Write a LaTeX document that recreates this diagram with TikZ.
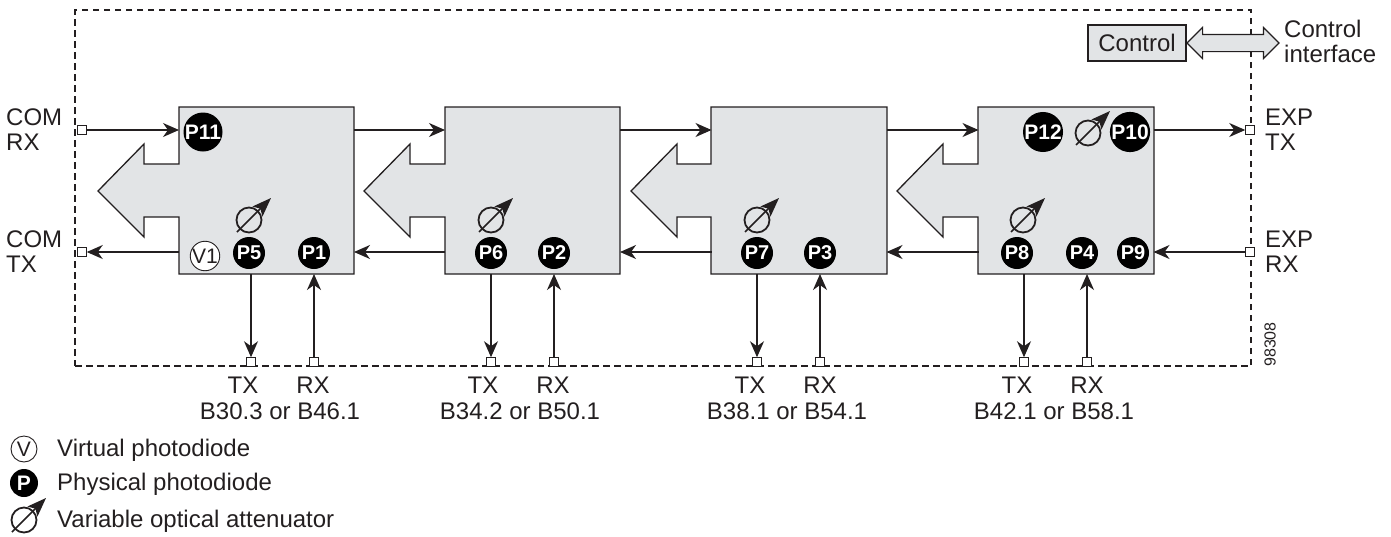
\documentclass[tikz,border=0pt]{standalone}
\usepackage{fontspec}
\setmainfont{Liberation Sans}
\usetikzlibrary{arrows.meta,shapes.arrows}
\definecolor{unitgray}{HTML}{E2E4E6}
\definecolor{inkblack}{HTML}{231F20}
\tikzset{
  txt/.style={font=\fontsize{24}{25}\selectfont,text=inkblack,inner sep=0pt,align=center},
  txtl/.style={txt,anchor=west,align=left},
  unit/.style={draw=inkblack,fill=unitgray,line width=1.3pt},
  body/.style={minimum width=175pt,minimum height=167pt,inner sep=0pt,outer sep=0pt},
  link/.style={draw=inkblack,line width=1.3pt,-{Stealth[length=16pt,width=14pt,inset=5pt]}},
  port/.style={draw=inkblack,fill=white,line width=.9pt,minimum size=9.5pt,inner sep=0pt,outer sep=0pt},
  pd/.style={circle,fill=black,text=white,font=\fontsize{20}{20}\selectfont\bfseries,minimum size=32pt,inner sep=0pt},
  pdbig/.style={pd,minimum size=39pt,font=\fontsize{21}{21}\selectfont\bfseries},
  vd/.style={circle,draw=inkblack,fill=white,line width=.9pt,text=inkblack,font=\fontsize{21}{21}\selectfont,minimum size=26pt,inner sep=0pt},
  attenuator/.pic={
    \node[circle,draw=inkblack,line width=1.8pt,minimum size=25pt,inner sep=0pt] (-ring) at (0,0) {};
    \coordinate (-foot) at (-12,12);
    \coordinate (-head) at (22,-22);
    \draw[draw=inkblack,line width=1.6pt,-{Stealth[length=19pt,width=14pt,inset=4pt]}] (-foot) -- (-head);
  }
}
\begin{document}
\begin{tikzpicture}[x=1pt,y=-1pt]
      \useasboundingbox (0,0) rectangle (1391,536);
      \node[minimum width=1176pt,minimum height=356pt,inner sep=0pt,draw=inkblack,line width=1.3pt,dash pattern=on 6.5pt off 4.5pt] (frame) at (663,188) {};

      \draw[unit] (179,107) -- (354,107) -- (354,274) -- (179,274) -- (179,217) -- (144,217) -- (144,237) -- (98,191) -- (144,144) -- (144,164) -- (179,164) -- cycle;
      \draw[unit] (445,107) -- (620,107) -- (620,274) -- (445,274) -- (445,217) -- (410,217) -- (410,237) -- (364,191) -- (410,144) -- (410,164) -- (445,164) -- cycle;
      \draw[unit] (711,107) -- (887,107) -- (887,274) -- (711,274) -- (711,217) -- (677,217) -- (677,237) -- (631,191) -- (677,144) -- (677,164) -- (711,164) -- cycle;
      \draw[unit] (978,107) -- (1154,107) -- (1154,274) -- (978,274) -- (978,217) -- (943,217) -- (943,237) -- (897,191) -- (943,144) -- (943,164) -- (978,164) -- cycle;
      \node[body] (unit1) at (266.5,190.5) {};
      \node[body] (unit2) at (532.5,190.5) {};
      \node[body] (unit3) at (799,190.5) {};
      \node[body] (unit4) at (1066,190.5) {};

      \node[port] (comrx) at (82,130) {};
      \node[port] (comtx) at (82,252) {};
      \node[port] (exptx) at (1250,130) {};
      \node[port] (exprx) at (1250,252) {};
      \node[port] (tx1) at (251,362) {};
      \node[port] (rx1) at (314,362) {};
      \node[port] (tx2) at (491,362) {};
      \node[port] (rx2) at (554,362) {};
      \node[port] (tx3) at (757,362) {};
      \node[port] (rx3) at (820,362) {};
      \node[port] (tx4) at (1024,362) {};
      \node[port] (rx4) at (1087,362) {};

      \begin{scope}[link]
        \draw (comrx) -- (comrx -| unit1.west);
        \draw (comrx -| unit1.east) -- (comrx -| unit2.west);
        \draw (comrx -| unit2.east) -- (comrx -| unit3.west);
        \draw (comrx -| unit3.east) -- (comrx -| unit4.west);
        \draw (exptx -| unit4.east) -- (exptx);
        \draw (exprx) -- (exprx -| unit4.east);
        \draw (exprx -| unit4.west) -- (exprx -| unit3.east);
        \draw (exprx -| unit3.west) -- (exprx -| unit2.east);
        \draw (exprx -| unit2.west) -- (exprx -| unit1.east);
        \draw (comtx -| unit1.west) -- (comtx);
        \draw (tx1 |- unit1.south) -- (tx1);
        \draw (rx1) -- (rx1 |- unit1.south);
        \draw (tx2 |- unit2.south) -- (tx2);
        \draw (rx2) -- (rx2 |- unit2.south);
        \draw (tx3 |- unit3.south) -- (tx3);
        \draw (rx3) -- (rx3 |- unit3.south);
        \draw (tx4 |- unit4.south) -- (tx4);
        \draw (rx4) -- (rx4 |- unit4.south);
      \end{scope}

      \node[pdbig] (p11) at (203,132) {P11};
      \node[pdbig] (p12) at (1043,132) {P12};
      \node[pdbig] (p10) at (1130,132) {P10};
      \node[vd] (v1) at (205,256) {V1};
      \node[pd] (p5) at (249,253) {P5};
      \node[pd] (p1) at (314,253) {P1};
      \node[pd] (p6) at (491,253) {P6};
      \node[pd] (p2) at (554,253) {P2};
      \node[pd] (p7) at (757,253) {P7};
      \node[pd] (p3) at (820,253) {P3};
      \node[pd] (p8) at (1017,253) {P8};
      \node[pd] (p4) at (1082,253) {P4};
      \node[pd] (p9) at (1133,253) {P9};

      \pic (voa1) at (249,220) {attenuator};
      \pic (voa2) at (491,220) {attenuator};
      \pic (voa3) at (757,220) {attenuator};
      \pic (voa4) at (1023,220) {attenuator};
      \pic (voa5) at (1088,133) {attenuator};

      \node[draw=inkblack,fill=unitgray,line width=1.3pt,minimum width=98pt,minimum height=36pt,inner sep=0pt,txt] (control) at (1137,43) {Control};
      \node[double arrow,draw=inkblack,fill=unitgray,line width=1.1pt,minimum width=30pt,minimum height=92pt,double arrow head extend=7pt,inner sep=8pt] (ctrllink) at (1233,43) {};
      \node[txtl] (ctrlif) at (1284,41) {Control\\interface};

      \node[txtl] (comrxl) at (6,130) {COM\\RX};
      \node[txtl] (comtxl) at (6,252) {COM\\TX};
      \node[txtl] (exptxl) at (1265,130) {EXP\\TX};
      \node[txtl] (exprxl) at (1265,252) {EXP\\RX};

      \node[txt] (tx1l) at (243,385) {TX};
      \node[txt] (rx1l) at (313,385) {RX};
      \node[txt] (b1l) at (280,411) {B30.3 or B46.1};
      \node[txt] (tx2l) at (483,385) {TX};
      \node[txt] (rx2l) at (553,385) {RX};
      \node[txt] (b2l) at (520,411) {B34.2 or B50.1};
      \node[txt] (tx3l) at (750,385) {TX};
      \node[txt] (rx3l) at (820,385) {RX};
      \node[txt] (b3l) at (787,411) {B38.1 or B54.1};
      \node[txt] (tx4l) at (1017,385) {TX};
      \node[txt] (rx4l) at (1087,385) {RX};
      \node[txt] (b4l) at (1054,411) {B42.1 or B58.1};

      \node[rotate=90,inner sep=0pt,text=inkblack,font=\fontsize{16}{16}\selectfont] (figno) at (1270,344.5) {98308};

      \node[vd,fill=none] (legv) at (24,449) {V};
      \node[pd,minimum size=28pt,font=\fontsize{21}{21}\selectfont\bfseries] (legp) at (24,483) {P};
      \pic (legvoa) at (24,520) {attenuator};
      \node[txtl] (legvl) at (57,450) {Virtual photodiode};
      \node[txtl] (legpl) at (57,484) {Physical photodiode};
      \node[txtl] (legal) at (57,521) {Variable optical attenuator};
    \end{tikzpicture}
\end{document}
